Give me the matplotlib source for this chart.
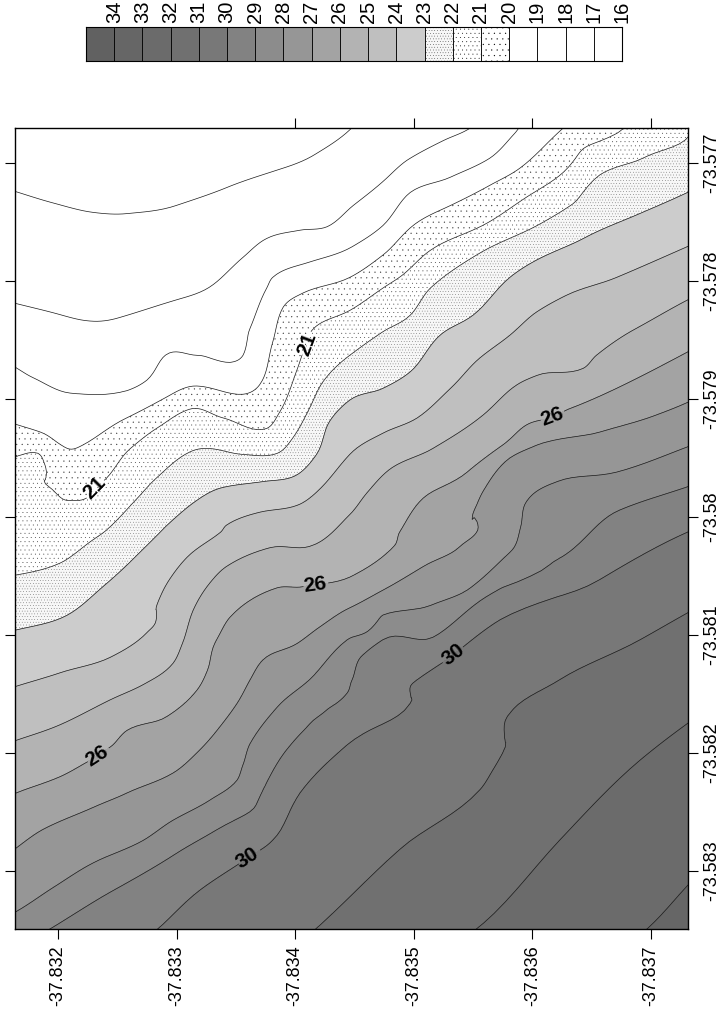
import numpy as np
import matplotlib
matplotlib.use("Agg")
import matplotlib.pyplot as plt
import matplotlib.tri as mtri

plt.rcParams['font.family'] = ['Liberation Sans', 'DejaVu Sans']
plt.rcParams['hatch.linewidth'] = 0.1
plt.rcParams['hatch.color'] = '#333333'

# Isoline samples, in thousandths of a degree
# past lat -37.832 (u) and lon -73.577 (v).
iso = {
 17: ([-0.40,-0.04,0.30,0.58,1.00,1.42,1.85,2.18,2.46,2.52],
      [0.23,0.34,0.42,0.43,0.36,0.21,0.06,-0.08,-0.28,-0.35]),
 18: ([-0.40,-0.04,0.27,0.52,1.00,1.31,1.56,1.76,2.04,2.27,2.49,2.77,2.97,3.25,3.45,3.55],
      [1.18,1.27,1.34,1.31,1.16,1.03,0.80,0.64,0.57,0.54,0.36,0.13,-0.04,-0.19,-0.28,-0.35]),
 19: ([-0.40,-0.21,0.10,0.58,0.75,0.94,1.17,1.45,1.56,1.62,1.76,1.81,2.12,2.48,2.74,2.97,3.31,3.64,3.85,3.91],
      [1.71,1.82,1.95,1.93,1.84,1.61,1.63,1.69,1.63,1.40,1.06,0.97,0.84,0.71,0.53,0.25,0.12,-0.04,-0.25,-0.33]),
 20: ([-0.40,-0.15,0.08,0.21,0.58,0.94,1.17,1.56,1.70,1.81,1.90,2.07,2.46,2.74,2.97,3.31,3.64,3.90,4.21,4.30],
      [2.20,2.28,2.42,2.39,2.16,1.97,1.89,1.96,1.88,1.52,1.22,1.10,0.97,0.78,0.55,0.36,0.19,0.04,-0.25,-0.33]),
 21: ([-0.40,-0.17,-0.11,-0.07,0.08,0.24,0.30,0.41,0.61,0.83,1.14,1.39,1.76,1.87,2.02,2.07,2.10,2.14,2.46,2.74,2.94,3.14,3.58,3.95,4.26,4.71,4.81],
      [2.49,2.46,2.56,2.75,2.86,2.84,2.76,2.67,2.42,2.25,2.08,2.16,2.25,2.11,1.74,1.60,1.53,1.42,1.25,1.06,0.92,0.74,0.53,0.29,0.08,-0.25,-0.33]),
 22: ([-0.40,0.02,0.30,0.41,0.67,0.83,1.11,1.28,1.56,1.85,1.98,2.12,2.23,2.46,2.74,2.97,3.14,3.58,4.04,4.57,4.93,5.35],
      [3.50,3.39,3.19,3.11,2.84,2.67,2.45,2.42,2.47,2.46,2.33,2.08,1.86,1.63,1.43,1.29,1.06,0.75,0.53,0.10,-0.04,-0.28]),
 23: ([-0.40,0.02,0.38,0.63,0.88,0.92,1.17,1.39,1.73,2.02,2.18,2.29,2.46,2.74,2.97,3.20,3.50,3.81,4.06,4.43,4.88,5.35],
      [3.97,3.86,3.59,3.36,3.11,3.07,2.86,2.75,2.70,2.64,2.47,2.19,2.01,1.91,1.77,1.48,1.29,0.97,0.81,0.64,0.44,0.23]),
 24: ([-0.40,0.02,0.44,0.75,0.82,0.84,0.94,1.09,1.37,1.42,1.70,2.02,2.18,2.46,2.74,3.03,3.31,3.56,3.81,4.04,4.29,4.71,5.35],
      [4.45,4.32,4.19,3.98,3.90,3.73,3.53,3.34,3.13,3.07,2.96,2.90,2.79,2.47,2.29,2.16,1.91,1.65,1.46,1.26,1.12,0.97,0.69]),
 25: ([-0.40,0.02,0.44,0.72,0.97,1.05,1.14,1.28,1.42,1.79,2.12,2.46,2.61,2.82,3.16,3.58,3.87,4.04,4.43,4.54,4.88,5.35],
      [4.91,4.76,4.55,4.42,4.24,4.07,3.79,3.56,3.42,3.26,3.25,2.98,2.79,2.58,2.42,2.14,1.88,1.80,1.74,1.63,1.40,1.14]),
 26: ([-0.40,0.02,0.24,0.44,0.58,0.92,1.17,1.26,1.31,1.37,1.45,1.85,2.07,2.46,2.84,2.88,3.08,3.45,3.75,3.95,4.15,4.32,4.71,5.35],
      [5.36,5.20,5.08,4.95,4.81,4.69,4.47,4.30,4.10,3.98,3.85,3.60,3.59,3.51,3.24,3.13,2.84,2.62,2.39,2.22,2.16,2.08,1.91,1.58]),
 27: ([-0.40,-0.13,0.30,0.58,0.97,1.17,1.34,1.51,1.62,1.73,2.02,2.21,2.46,2.74,3.08,3.39,3.54,3.52,3.58,3.81,4.04,4.57,5.35],
      [5.84,5.65,5.46,5.34,5.17,5.00,4.81,4.58,4.38,4.21,4.07,3.93,3.77,3.62,3.42,3.25,3.11,2.92,2.79,2.50,2.39,2.28,2.01]),
 28: ([-0.40,-0.04,0.30,0.72,0.97,1.28,1.51,1.56,1.62,1.85,2.12,2.44,2.61,3.14,3.45,3.81,3.90,3.95,4.21,4.71,5.35],
      [6.37,6.14,5.93,5.74,5.57,5.40,5.23,5.10,4.92,4.61,4.38,4.04,3.97,3.75,3.62,3.30,3.09,2.87,2.70,2.62,2.39]),
 29: ([-0.15,0.44,1.00,1.34,1.76,1.93,2.44,2.48,2.55,2.74,3.16,3.56,4.40,4.74,5.35],
      [6.54,6.18,5.85,5.65,5.25,4.97,4.49,4.38,4.19,4.04,4.02,3.71,3.22,2.94,2.73]),
 30: ([0.78,1.20,1.60,1.81,2.04,2.44,2.97,2.99,3.33,3.73,4.57,5.35],
      [6.54,6.16,5.89,5.74,5.34,4.93,4.58,4.41,4.17,3.87,3.53,3.11]),
 31: ([2.12,2.88,3.56,3.67,3.75,3.79,4.23,4.91,5.35],
      [6.54,5.82,5.31,5.14,5.00,4.69,4.38,4.04,3.79]),
 32: ([3.47,4.23,4.91,5.35], [6.54,5.74,5.06,4.72]),
 33: ([4.91,5.35], [6.54,6.08]),
}
corner_u = [-0.40, 5.35, -0.40, 5.35]
corner_v = [-0.35, -0.35, 6.55, 6.55]
corner_z = [16.5, 22.1, 28.7, 33.9]

label_levels = [21, 26, 30]
label_u = [0.30, 2.11, 0.33, 2.17, 4.17, 1.60, 3.33]
label_v = [2.75, 1.54, 5.03, 3.59, 2.16, 5.89, 4.17]

band_levels = list(range(16, 36))
band_grays = [1.0, 1.0, 1.0, 1.0, 1.0, 1.0, 0.97, 0.80, 0.75, 0.70,
              0.64, 0.59, 0.55, 0.51, 0.47, 0.44, 0.42, 0.40, 0.38]
band_hatch = [None]*4 + ['...', '....', '......'] + [None]*12

lat_ticks = [-37.832, -37.833, -37.834, -37.835, -37.836, -37.837]
lat_top_ticks = [-37.834, -37.835, -37.836, -37.837]
lon_ticks = [-73.577, -73.578, -73.579, -73.58, -73.581, -73.582, -73.583]
lat_labels = ['-37.832', '-37.833', '-37.834', '-37.835', '-37.836', '-37.837']
lon_labels = ['-73.577', '-73.578', '-73.579', '-73.58', '-73.581', '-73.582', '-73.583']
cbar_labels = [str(v) for v in range(34, 15, -1)]

def to_lat(u):
    return -37.832 - np.asarray(u) * 1e-3
def to_lon(v):
    return -73.577 - np.asarray(v) * 1e-3

u = np.concatenate([np.array(iso[k][0]) for k in iso] + [corner_u])
v = np.concatenate([np.array(iso[k][1]) for k in iso] + [corner_v])
z = np.concatenate([np.full(len(iso[k][0]), k + 0.001) for k in iso] + [corner_z])

W, H = 720, 1016
fig = plt.figure(figsize=(W/100, H/100), dpi=100, facecolor='white')
def box(x0, y0, x1, y1):
    return [x0/W, 1 - y1/H, (x1 - x0)/W, (y1 - y0)/H]

ax = fig.add_axes(box(15, 128, 688, 929))
base = mtri.Triangulation(u, v)
refiner = mtri.UniformTriRefiner(base)
fine, zfine = refiner.refine_field(z, triinterpolator=mtri.CubicTriInterpolator(base, z, kind='geom'), subdiv=3)
zfine = np.clip(zfine, 16.1, 34.9)
tri = mtri.Triangulation(to_lat(fine.x), to_lon(fine.y), triangles=fine.triangles)
colors = [str(g) for g in band_grays]
ax.tricontourf(tri, zfine, levels=band_levels, colors=colors, hatches=band_hatch)
ax.tricontour(tri, zfine, levels=[k for k in iso if k not in label_levels],
              colors='#1a1a1a', linewidths=0.5)
cs = ax.tricontour(tri, zfine, levels=label_levels, colors='#1a1a1a', linewidths=0.5)

ax.set_xlim(to_lat(-0.3626), to_lat(5.312))
ax.set_ylim(to_lon(6.4915), to_lon(-0.2966))
ax.set_xticks(lat_ticks, lat_labels, rotation=90)
ax.set_yticks(lon_ticks, lon_labels, rotation=90, va='center')
ax.tick_params(axis='x', direction='out', length=7, width=0.8, labelsize=13, pad=5)
ax.tick_params(axis='y', direction='out', length=7, width=0.8, labelsize=13, pad=4,
               left=True, right=True, labelleft=False, labelright=True)
top = ax.secondary_xaxis('top')
top.set_xticks(lat_top_ticks, [''] * len(lat_top_ticks))
top.tick_params(direction='out', length=7, width=0.8)
top.spines['top'].set_visible(False)
for s in ax.spines.values():
    s.set_linewidth(1.0)

lbls = ax.clabel(cs, fmt='%d', fontsize=15, inline=True, inline_spacing=1,
                 manual=list(zip(to_lat(label_u), to_lon(label_v))))
for t in lbls:
    t.set_color('black')
    t.set_fontweight('bold')

cax = fig.add_axes(box(86, 27, 622, 61))
edges = np.arange(len(cbar_labels) + 1)
for i, (g, h) in enumerate(zip(band_grays[::-1], band_hatch[::-1])):
    cax.bar(edges[i], 1, width=1, align='edge', color=str(g), edgecolor='black', linewidth=0.6, hatch=h)
cax.set_xlim(0, len(cbar_labels))
cax.set_ylim(0, 1)
cax.set_yticks([])
cax.xaxis.tick_top()
cax.set_xticks(edges[1:], cbar_labels, rotation=90)
cax.tick_params(axis='x', length=0, labelsize=14.5, pad=3)
for s in cax.spines.values():
    s.set_linewidth(0.8)

fig.savefig('out.png', dpi=100, facecolor='white')
